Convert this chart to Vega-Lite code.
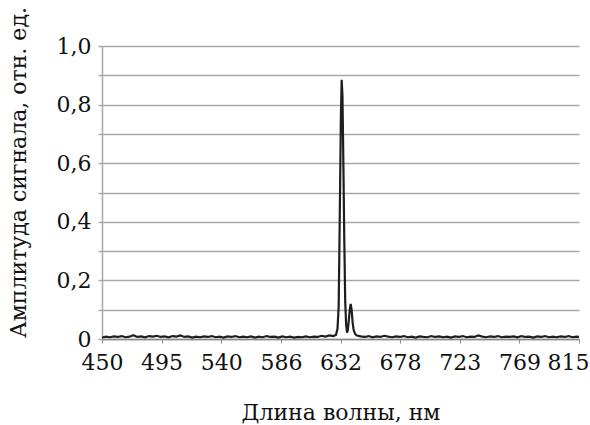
{
  "$schema": "https://vega.github.io/schema/vega-lite/v6.json",
  "autosize": "none",
  "width": 477,
  "height": 293,
  "padding": {"left": 102, "top": 46, "right": 11, "bottom": 86},
  "background": "white",
  "config": {
    "view": {"stroke": null},
    "font": "DejaVu Serif"
  },
  "data": {"values": [
    {"wl":450,"a":0.005},{"wl":453,"a":0.008},{"wl":456,"a":0.006},{"wl":459,"a":0.009},{"wl":462,"a":0.007},{"wl":465,"a":0.01},{"wl":468,"a":0.006},{"wl":471,"a":0.008},{"wl":474,"a":0.013},{"wl":477,"a":0.007},
    {"wl":480,"a":0.009},{"wl":483,"a":0.006},{"wl":486,"a":0.01},{"wl":489,"a":0.008},{"wl":492,"a":0.011},{"wl":495,"a":0.007},{"wl":498,"a":0.009},{"wl":501,"a":0.006},{"wl":504,"a":0.01},{"wl":507,"a":0.008},
    {"wl":510,"a":0.012},{"wl":513,"a":0.007},{"wl":516,"a":0.009},{"wl":519,"a":0.005},{"wl":522,"a":0.008},{"wl":525,"a":0.006},{"wl":528,"a":0.009},{"wl":531,"a":0.007},{"wl":534,"a":0.01},{"wl":537,"a":0.006},
    {"wl":540,"a":0.008},{"wl":543,"a":0.005},{"wl":546,"a":0.009},{"wl":549,"a":0.007},{"wl":552,"a":0.01},{"wl":555,"a":0.006},{"wl":558,"a":0.008},{"wl":561,"a":0.006},{"wl":564,"a":0.009},{"wl":567,"a":0.005},
    {"wl":570,"a":0.008},{"wl":573,"a":0.006},{"wl":576,"a":0.01},{"wl":579,"a":0.007},{"wl":582,"a":0.008},{"wl":585,"a":0.005},{"wl":588,"a":0.009},{"wl":591,"a":0.006},{"wl":594,"a":0.008},{"wl":597,"a":0.005},
    {"wl":600,"a":0.007},{"wl":603,"a":0.006},{"wl":606,"a":0.009},{"wl":609,"a":0.006},{"wl":612,"a":0.008},{"wl":615,"a":0.007},{"wl":618,"a":0.011},{"wl":621,"a":0.008},{"wl":624,"a":0.012},{"wl":627,"a":0.01},
    {"wl":629,"a":0.014},{"wl":630.2,"a":0.035},{"wl":631.1,"a":0.11},{"wl":631.9,"a":0.4},{"wl":632.8,"a":0.76},{"wl":633.4,"a":0.885},{"wl":634.0,"a":0.83},{"wl":634.7,"a":0.6},{"wl":635.4,"a":0.34},{"wl":636.1,"a":0.13},
    {"wl":636.8,"a":0.05},{"wl":637.5,"a":0.022},{"wl":638.1,"a":0.03},{"wl":638.9,"a":0.065},{"wl":639.6,"a":0.1},{"wl":640.3,"a":0.12},{"wl":641.0,"a":0.1},{"wl":641.8,"a":0.055},{"wl":642.6,"a":0.03},{"wl":643.6,"a":0.018},
    {"wl":645,"a":0.012},{"wl":648,"a":0.009},{"wl":651,"a":0.007},{"wl":654,"a":0.01},{"wl":657,"a":0.006},{"wl":660,"a":0.009},{"wl":663,"a":0.007},{"wl":666,"a":0.011},{"wl":669,"a":0.008},{"wl":672,"a":0.006},
    {"wl":675,"a":0.009},{"wl":678,"a":0.007},{"wl":681,"a":0.01},{"wl":684,"a":0.006},{"wl":687,"a":0.008},{"wl":690,"a":0.005},{"wl":693,"a":0.009},{"wl":696,"a":0.007},{"wl":699,"a":0.006},{"wl":702,"a":0.01},
    {"wl":705,"a":0.007},{"wl":708,"a":0.009},{"wl":711,"a":0.006},{"wl":714,"a":0.008},{"wl":717,"a":0.005},{"wl":720,"a":0.009},{"wl":723,"a":0.007},{"wl":726,"a":0.01},{"wl":729,"a":0.006},{"wl":732,"a":0.008},
    {"wl":735,"a":0.007},{"wl":738,"a":0.012},{"wl":741,"a":0.008},{"wl":744,"a":0.006},{"wl":747,"a":0.009},{"wl":750,"a":0.007},{"wl":753,"a":0.01},{"wl":756,"a":0.006},{"wl":759,"a":0.008},{"wl":762,"a":0.007},
    {"wl":765,"a":0.009},{"wl":768,"a":0.006},{"wl":771,"a":0.01},{"wl":774,"a":0.007},{"wl":777,"a":0.008},{"wl":780,"a":0.005},{"wl":783,"a":0.009},{"wl":786,"a":0.007},{"wl":789,"a":0.01},{"wl":792,"a":0.006},
    {"wl":795,"a":0.008},{"wl":798,"a":0.006},{"wl":801,"a":0.009},{"wl":804,"a":0.007},{"wl":807,"a":0.01},{"wl":810,"a":0.006},{"wl":813,"a":0.008},{"wl":815,"a":0.007}
  ]},
  "mark": {"type": "line", "color": "#1e1e1e", "strokeWidth": 2.2, "clip": true},
  "encoding": {
    "x": {
      "field": "wl", "type": "quantitative",
      "scale": {"domain": [450, 815], "nice": false, "zero": false},
      "axis": {
        "values": [450, 495.6, 541.25, 586.9, 632.5, 678.1, 723.75, 769.4, 815],
        "labelExpr": "datum.value < 460 ? '450' : datum.value < 500 ? '495' : datum.value < 545 ? '540' : datum.value < 590 ? '586' : datum.value < 640 ? '632' : datum.value < 680 ? '678' : datum.value < 730 ? '723' : datum.value < 770 ? '769' : '815'",
        "grid": false,
        "domainColor": "#888888", "domainWidth": 1.5,
        "tickColor": "#888888", "tickSize": 4, "tickWidth": 1,
        "labelFont": "DejaVu Serif", "labelFontSize": 22, "labelColor": "#111111",
        "labelPadding": 9, "labelBaseline": "top", "labelFlush": false, "labelOverlap": false,
        "labelOffset": {"condition": {"test": "datum.value > 800", "value": -11}, "value": 0},
        "title": "Длина волны, нм",
        "titleFont": "DejaVu Serif", "titleFontSize": 22, "titleFontWeight": "normal", "titleColor": "#111111",
        "titleY": 80, "titleBaseline": "alphabetic"
      }
    },
    "y": {
      "field": "a", "type": "quantitative",
      "scale": {"domain": [0, 1], "nice": false},
      "axis": {
        "values": [0, 0.1, 0.2, 0.3, 0.4, 0.5, 0.6, 0.7, 0.8, 0.9, 1.0],
        "labelExpr": "round(datum.value*10) % 2 == 1 ? '' : datum.value == 0 ? '0' : replace(format(datum.value, '.1f'), '.', ',')",
        "grid": true, "gridColor": "#a8a8a8", "gridWidth": 1.5,
        "domainColor": "#a8a8a8", "domainWidth": 1.5,
        "tickColor": "#a8a8a8", "tickSize": 4, "tickWidth": 1.5,
        "labelFont": "DejaVu Serif", "labelFontSize": 22, "labelColor": "#111111",
        "labelPadding": 7, "labelFlush": false, "labelOverlap": false,
        "title": "Амплитуда сигнала, отн. ед.",
        "titleFont": "DejaVu Serif", "titleFontSize": 22, "titleFontWeight": "normal", "titleColor": "#111111",
        "titleX": -84, "titleY": 126, "titleAngle": -90, "titleAlign": "center", "titleBaseline": "middle"
      }
    }
  }
}
